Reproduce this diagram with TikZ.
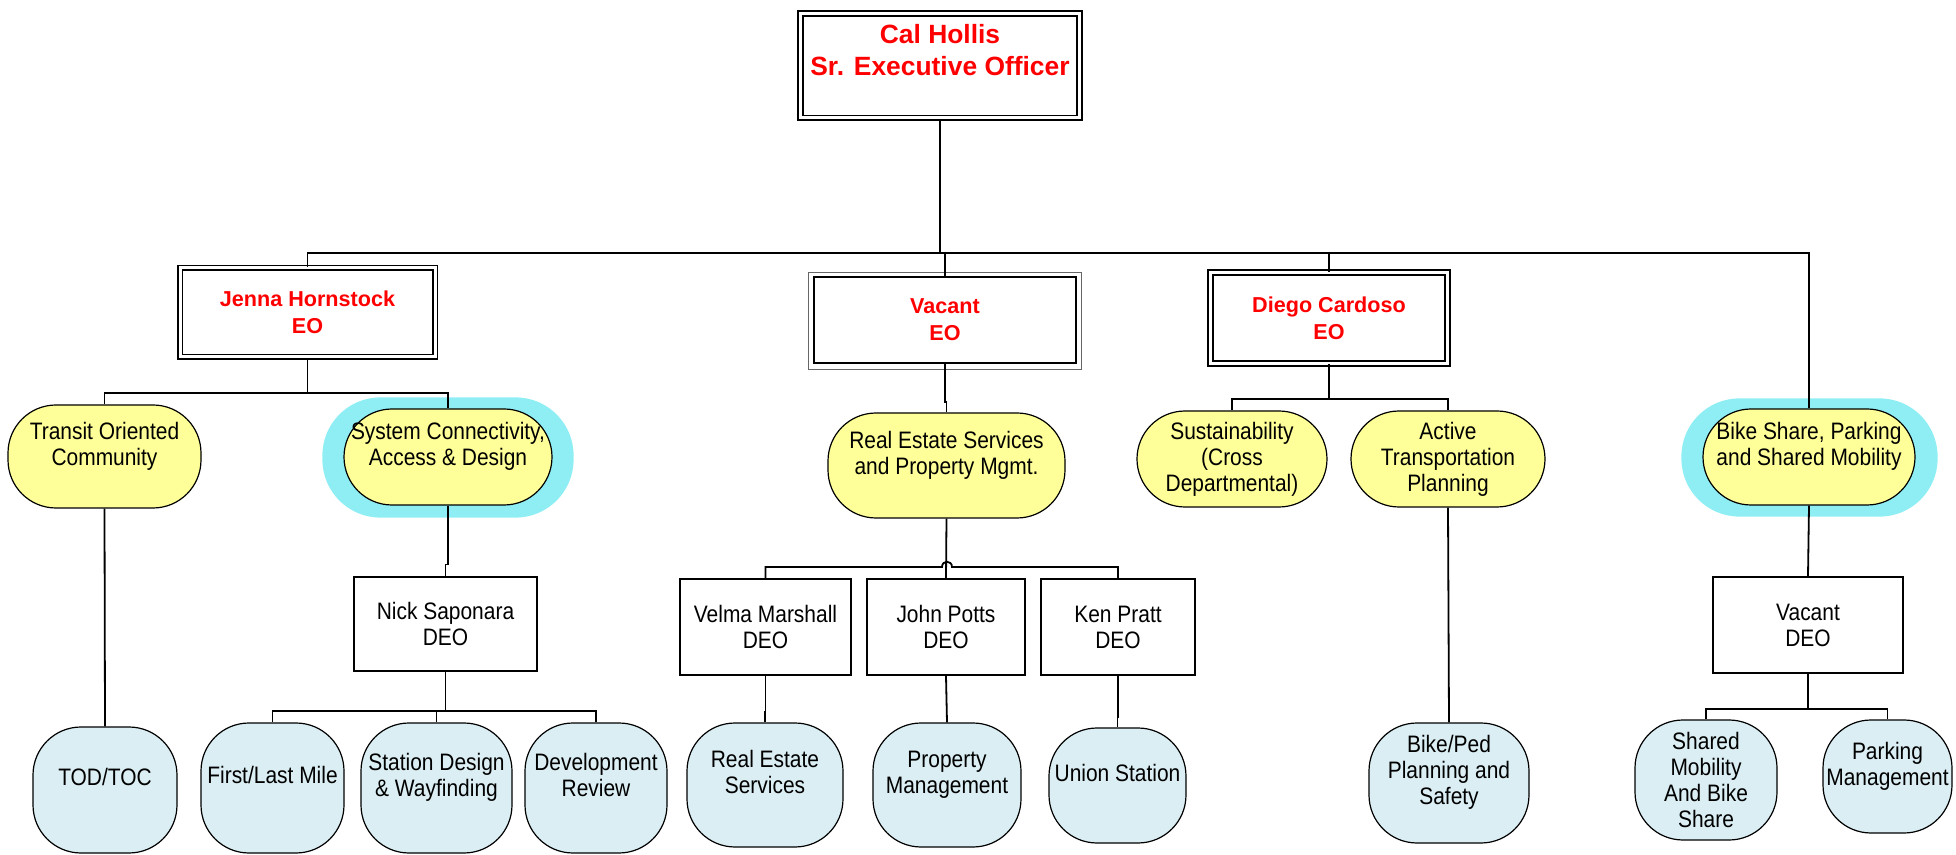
\documentclass[tikz,border=0pt]{standalone}
\usepackage{fontspec}
\setmainfont{Liberation Sans}
\newfontfamily\narrowsf[FakeStretch=0.88]{Liberation Sans}
\usetikzlibrary{backgrounds}
\definecolor{eored}{HTML}{FF0000}
\definecolor{unityellow}{HTML}{FFFF99}
\definecolor{teamblue}{HTML}{DAEEF3}
\definecolor{halocyan}{HTML}{8EEEF4}

\begin{document}
\begin{tikzpicture}[x=0.5pt, y=-0.5pt,
    sz/.style 2 args={minimum width=#1*0.5pt, minimum height=#2*0.5pt},
    eotext/.style={inner sep=0pt, align=center, text=eored},
    ceobox/.style={eotext, draw, double, double distance=1.5pt, line width=0.9pt, font=\fontsize{13.2}{16}\selectfont\bfseries},
    eobox/.style={eotext, draw, double, double distance=1.5pt, line width=0.9pt, font=\fontsize{10.8}{13.5}\selectfont\bfseries},
    vacbox/.style={eotext, draw, line width=0.8pt, font=\fontsize{10.8}{13.5}\selectfont\bfseries},
    unit/.style={draw, line width=0.6pt, fill=unityellow, rounded corners=24pt, inner sep=0pt, align=center, font=\narrowsf\fontsize{11.9}{13}\selectfont},
    deo/.style={draw, line width=0.9pt, inner sep=0pt, align=center, font=\narrowsf\fontsize{11.9}{13}\selectfont},
    team/.style={draw, line width=0.6pt, fill=teamblue, rounded corners=24pt, inner sep=0pt, align=center, font=\narrowsf\fontsize{11.9}{13}\selectfont},
    halo/.style={fill=halocyan, rounded corners=29pt},
    link/.style={line width=0.9pt}]
    \useasboundingbox (0,0) rectangle (1956,855);

    % executive officers
    \node[ceobox, sz={279.5}{104.5}] (ceo) at (940,65.75) {Cal Hollis\\Sr. Executive Officer\\\mbox{}};
    \node[eobox, sz={255}{89}] (eo1) at (307.5,312.5) {Jenna Hornstock\\EO};
    \node[vacbox, sz={262}{86}] (eo2) at (945,320) {Vacant\\EO};
    \draw[gray!80!black, line width=0.6pt] ([shift={(-5,-4)}]eo2.north west) rectangle ([shift={(5,6)}]eo2.south east);
    \node[eobox, sz={237.5}{90.5}] (eo3) at (1329,318) {Diego Cardoso\\EO};

    % units
    \node[unit, sz={193}{103}] (transit) at (104.5,456.5) {Transit Oriented\\Community\\\mbox{}};
    \node[unit, sz={208}{96}] (sys) at (448,457) {System Connectivity,\\Access \& Design\\\mbox{}};
    \node[unit, sz={237}{105}] (repm) at (946.5,465.5) {Real Estate Services\\and Property Mgmt.\\\mbox{}};
    \node[unit, sz={190}{96}] (sust) at (1232,459) {Sustainability\\(Cross\\Departmental)};
    \node[unit, sz={194}{96}] (active) at (1448,459) {Active\\Transportation\\Planning};
    \node[unit, sz={212}{96}] (bike) at (1809,457) {Bike Share, Parking\\and Shared Mobility\\\mbox{}};
    \begin{scope}[on background layer]
        \fill[halo] ([shift={(-21,-11)}]sys.north west) rectangle ([shift={(21,12)}]sys.south east);
        \fill[halo] ([shift={(-21,-10)}]bike.north west) rectangle ([shift={(22,11)}]bike.south east);
    \end{scope}

    % deputies
    \node[deo, sz={183}{94}] (nick) at (445.5,624) {Nick Saponara\\DEO};
    \node[deo, sz={171}{96}] (velma) at (765.5,627) {Velma Marshall\\DEO};
    \node[deo, sz={158}{96}] (john) at (946,627) {John Potts\\DEO};
    \node[deo, sz={154}{96}] (ken) at (1118,627) {Ken Pratt\\DEO};
    \node[deo, sz={190}{96}] (vdeo) at (1808,625) {Vacant\\DEO};

    % teams
    \node[team, sz={144}{126}] (tod) at (105,790) {TOD/TOC\\\mbox{}};
    \node[team, sz={143}{130}] (first) at (272.5,788) {First/Last Mile\\\mbox{}};
    \node[team, sz={151}{130}] (station) at (436.5,788) {Station Design\\\& Wayfinding\\\mbox{}};
    \node[team, sz={142}{130}] (dev) at (596,788) {Development\\Review\\\mbox{}};
    \node[team, sz={156}{124}] (res) at (765,785) {Real Estate\\Services\\\mbox{}};
    \node[team, sz={148}{124}] (prop) at (947,785) {Property\\Management\\\mbox{}};
    \node[team, sz={137}{115}] (union) at (1117.5,785.5) {Union Station\\\mbox{}};
    \node[team, sz={160}{120}] (bikeped) at (1449,783) {Bike/Ped\\Planning and\\Safety\\\mbox{}};
    \node[team, sz={142}{120}] (shared) at (1706,780) {Shared\\Mobility\\And Bike\\Share};
    \node[team, sz={129}{113}] (parking) at (1887.5,776.5) {Parking\\Management\\\mbox{}};

    % top bus
    \coordinate (top) at (940,253);
    \draw[link] (ceo) -- (top);
    \draw[link] (eo1.north) |- (top) -| (bike.north);
    \draw[link] (eo2.north) -- (eo2.north |- top);
    \draw[link] (eo3.north) -- (eo3.north |- top);

    % Jenna
    \coordinate (jbus) at (307.5,393);
    \draw[link] (eo1) -- (jbus);
    \draw[link] (transit.north) |- (jbus) -| (sys.north);
    \draw[link] (transit.south) -- (tod.north);
    \draw[link] (sys.south) -- ++(0,59) -| (nick.north);
    \coordinate (nbus) at (445.5,711);
    \draw[link] (nick) -- (nbus);
    \draw[link] (first.north) |- (nbus) -| (dev.north);
    \draw[link] (station.north) -- (station.north |- nbus);

    % Vacant EO
    \draw[link] (eo2.south) -- ++(0,38) -| (repm.north);
    \draw[link] (repm.south) -- (john.north);
    \draw[link] (velma.north) |- (942,567) .. controls (942,560) and (952,560) .. (952,567) -| (ken.north);
    \draw[link] (velma.south) -- ++(0,36) -| (res.north);
    \draw[link] (john.south) -- (prop.north);
    \draw[link] (ken.south) -- ++(0,41) -| (union.north);

    % Diego
    \coordinate (dbus) at (1329,399);
    \draw[link] (eo3) -- (dbus);
    \draw[link] (sust.north) |- (dbus) -| (active.north);
    \draw[link] (active.south) -- (bikeped.north);

    % bike share
    \draw[link] (bike.south) -- (vdeo.north);
    \coordinate (vbus) at (1808,709);
    \draw[link] (vdeo) -- (vbus);
    \draw[link] (shared.north) |- (vbus) -| (parking.north);
\end{tikzpicture}
\end{document}
